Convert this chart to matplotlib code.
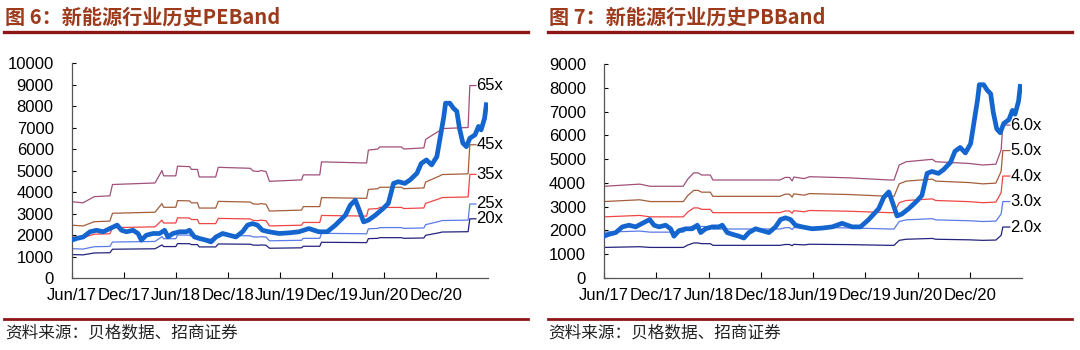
import numpy as np
import matplotlib
matplotlib.use("Agg")
import matplotlib.pyplot as plt

plt.rcParams['font.family'] = ['Liberation Sans', 'Noto Sans CJK SC', 'DejaVu Sans']

# x in months since Jun 2017
tick_labels = ['Jun/17', 'Dec/17', 'Jun/18', 'Dec/18', 'Jun/19', 'Dec/19', 'Jun/20', 'Dec/20']

# new energy index (same series in both panels)
idx_month = [0.0, 0.57, 1.34, 2.10, 2.87, 3.63, 4.40, 5.24, 5.74, 6.31, 7.07, 7.65, 8.03,
             8.60, 9.37, 10.13, 10.71, 11.09, 11.66, 12.43, 13.19, 13.58, 14.15, 14.72,
             15.49, 16.06, 16.63, 17.40, 18.16, 18.93, 19.69, 20.27, 20.84, 21.41, 21.99,
             22.75, 23.9, 25.05, 26.2, 27.34, 28.49, 29.45, 30.4, 31.55, 32.12, 32.7,
             33.08, 33.65, 34.2, 35.0, 35.9, 36.5, 37.1, 37.65, 38.4, 39.0, 39.8, 40.3,
             40.9, 41.5, 42.1, 42.5, 42.9, 43.1, 43.6, 44.0, 44.4, 44.7, 45.1, 45.5,
             45.9, 46.5, 46.9, 47.2, 47.6, 47.8]
idx_value = [1760, 1840, 1910, 2150, 2220, 2150, 2300, 2460, 2220, 2150, 2220, 2070, 1760,
             1990, 2070, 2070, 2220, 1910, 2070, 2150, 2150, 2220, 1910, 1840,
             1760, 1680, 1910, 2070, 1990, 1910, 2150, 2460, 2530, 2460, 2220,
             2150, 2070, 2100, 2150, 2300, 2150, 2150, 2460, 2920, 3390, 3620,
             3230, 2610, 2690, 2920, 3230, 3470, 4400, 4480, 4400, 4560, 4870, 5330,
             5490, 5260, 5650, 6580, 7510, 8130, 8130, 7900, 7750, 6970, 6270, 6110,
             6500, 6660, 7050, 6890, 7430, 8060]

# PE band: index EPS (value per 1x)
pe_month = [0.0, 1.3, 2.6, 4.4, 4.7, 9.6, 10.2, 10.4, 10.6, 12.0, 12.2, 13.6, 13.8, 14.5,
            14.7, 16.6, 16.9, 20.6, 20.9, 21.5, 21.8, 22.4, 22.8, 26.5, 26.7, 28.6, 28.8,
            34.0, 34.2, 35.3, 35.5, 38.0, 38.3, 40.6, 40.8, 42.4, 42.7, 45.7, 45.9, 46.6]
pe_eps = [54.6, 53.8, 58.2, 58.8, 66.9, 68.0, 74.6, 76.9, 73.1, 73.1, 80.0, 79.7, 77.7, 77.7,
          72.3, 72.3, 79.2, 78.5, 76.6, 76.2, 76.9, 76.2, 69.2, 70.2, 73.8, 73.8, 83.1,
          82.3, 91.5, 92.3, 93.8, 93.8, 92.3, 93.1, 99.2, 105.4, 106.9, 107.7, 137.7, 137.7]
pe_multiples = [65, 45, 35, 25, 20]
pe_labels = ['65x', '45x', '35x', '25x', '20x']

# PB band: index BPS (value per 1x)
pb_month = [0.0, 4.1, 5.3, 9.1, 9.6, 10.3, 10.8, 11.2, 12.2, 12.5, 20.2, 20.8, 21.3, 21.6,
            21.8, 22.6, 23.0, 23.6, 28.2, 32.8, 33.3, 33.9, 34.7, 37.7, 38.1, 41.9, 43.5,
            45.0, 45.6, 45.8, 46.6]
pb_bps = [643, 658, 643, 643, 692, 737, 737, 722, 722, 687, 687, 705, 705, 680,
          708, 700, 697, 710, 702, 687, 687, 792, 815, 832, 815, 803, 792,
          798, 897, 1072, 1072]
pb_multiples = [6.0, 5.0, 4.0, 3.0, 2.0]
pb_labels = ['6.0x', '5.0x', '4.0x', '3.0x', '2.0x']

band_colors = ['#A0507A', '#A45E3C', '#F04545', '#5A7BE6', '#23237E']
index_color = '#1565CF'
title_color = '#9C3A1C'
rule_color = '#8E1616'

fig = plt.figure(figsize=(10.8, 3.5), dpi=100)


def draw_panel(ax, months, base, multiples, labels, ymax, ystep):
    months = np.array(months)
    base = np.array(base)
    for m, lab, c in zip(multiples, labels, band_colors):
        ax.plot(months, base * m, color=c, lw=0.9, zorder=2)
        ax.text(months[-1] + 0.05, base[-1] * m, lab, fontsize=12,
                va='center', ha='left', color='black', zorder=4)
    ax.plot(idx_month, idx_value, color=index_color, lw=3.4, zorder=3,
            solid_joinstyle='round')
    ax.set_xlim(0, 48)
    ax.set_ylim(0, ymax)
    ax.set_xticks(np.arange(0, 48, 6))
    ax.set_xticklabels(tick_labels, fontsize=12)
    ax.set_yticks(np.arange(0, ymax + 1, ystep))
    ax.tick_params(axis='y', direction='in', length=3, pad=13, labelsize=12)
    ax.tick_params(axis='x', direction='in', length=4, pad=7)
    for s in ['top', 'right']:
        ax.spines[s].set_visible(False)
    for s in ['left', 'bottom']:
        ax.spines[s].set_color('#555555')
        ax.spines[s].set_linewidth(0.9)


ax1 = fig.add_axes([0.0664, 0.2057, 0.3855, 0.6143])
draw_panel(ax1, pe_month, pe_eps, pe_multiples, pe_labels, 10000, 1000)
ax2 = fig.add_axes([0.5593, 0.2057, 0.3870, 0.6114])
draw_panel(ax2, pb_month, pb_bps, pb_multiples, pb_labels, 9000, 1000)

# titles, rules, source notes
cjk = ['Noto Sans CJK SC', 'DejaVu Sans']
for x0, x1, title in [(0.004, 0.489, '图 6：新能源行业历史PEBand'),
                      (0.507, 0.993, '图 7：新能源行业历史PBBand')]:
    fig.text(x0 + 0.001, 0.951, title, fontsize=14.5, fontweight='bold',
             color=title_color, family=cjk, va='center', ha='left')
    fig.add_artist(plt.Line2D([x0, x1], [0.909, 0.909], color=rule_color, lw=2.4))
    fig.add_artist(plt.Line2D([x0, x1], [0.089, 0.089], color=rule_color, lw=2.0))
    fig.text(x0 + 0.001, 0.048, '资料来源：贝格数据、招商证券', fontsize=12,
             color='#222222', family=cjk, va='center', ha='left')

fig.savefig('out.png', dpi=100)
